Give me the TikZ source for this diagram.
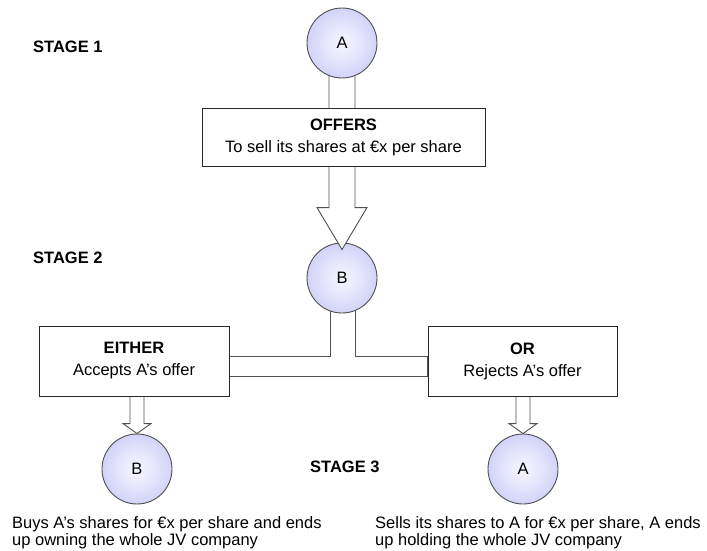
\documentclass[tikz,border=0pt]{standalone}
\usepackage{fontspec}
\setmainfont{Liberation Sans}
\usetikzlibrary{calc}
\definecolor{ballin}{RGB}{246,246,255}
\definecolor{ballout}{RGB}{184,184,244}
\definecolor{lnc}{RGB}{80,80,80}
\definecolor{boxc}{RGB}{40,40,40}
\pgfdeclareradialshading{ballshade}{\pgfpoint{0bp}{0bp}}{color(0bp)=(ballin); color(12bp)=(ballin!75!ballout); color(42bp)=(ballout); color(60bp)=(ballout)}
\pgfdeclarelayer{back}
\pgfdeclarelayer{mid}
\pgfdeclarelayer{arrows}
\pgfsetlayers{back,mid,arrows,main}
\newcommand\dfont{\fontsize{16.5pt}{22pt}\selectfont}
\newcommand\nfont{\fontsize{16.5pt}{17pt}\selectfont}
\begin{document}
\begin{tikzpicture}[x=1pt,y=-1pt,
  ball/.style={circle, draw=lnc, line width=0.9pt, shading=ballshade, minimum size=70pt, inner sep=0pt, font=\dfont},
  box/.style={draw=boxc, fill=white, line width=0.9pt, align=center, inner sep=0pt, font=\dfont},
  hollow/.style={draw=lnc, fill=white, line width=0.9pt, line join=miter},
  stage/.style={anchor=west, inner sep=0pt, font=\dfont\bfseries},
  note/.style={anchor=north west, align=left, inner sep=0pt, font=\nfont}]
\useasboundingbox (0,0) rectangle (707,551);

% circles below the arrows
\begin{pgfonlayer}{mid}
\node[ball] (cB) at (342,278) {B};
\node[ball] (cB2) at (137,469) {B};
\node[ball] (cA2) at (523,469) {A};
\end{pgfonlayer}

% main layer
\node[ball] (cA) at (342,43) {A};
\node[box, minimum width=283pt, minimum height=58pt] (offers) at (343.5,137)
  {\textbf{OFFERS}\\To sell its shares at €x per share};
\node[box, minimum width=190pt, minimum height=70pt] (either) at (134,361)
  {\textbf{EITHER}\\Accepts A’s offer};
\node[box, minimum width=189pt, minimum height=70pt] (or) at (522.5,361)
  {\textbf{OR}\\Rejects A’s offer};

\node[stage] (s1) at (33,47) {STAGE 1};
\node[stage] (s2) at (33,258) {STAGE 2};
\node[stage] (s3) at (310,467) {STAGE 3};

\node[note] (n1) at (12,516) {Buys A’s shares for €x per share and ends\\up owning the whole JV company};
\node[note] (n2) at (375,516) {Sells its shares to A for €x per share, A ends\\up holding the whole JV company};

% T connector behind
\begin{pgfonlayer}{back}
\coordinate (bartop) at ($(cB.center)+(0,78)$);
\coordinate (barbot) at ($(cB.center)+(0,98)$);
\draw[hollow] ($(cB.center)+(-12,0)$) -- ($(bartop)+(-12,0)$) -- (either.east |- bartop)
  -- (either.east |- barbot) -- (or.west |- barbot) -- (or.west |- bartop)
  -- ($(bartop)+(13,0)$) -- ($(cB.center)+(13,0)$);
\end{pgfonlayer}

% block arrows
\begin{pgfonlayer}{arrows}
\draw[hollow] ($(cA.center)+(-13,0)$) -- ($(cB.north)+(-13,-35)$) -- ($(cB.north)+(-25,-35)$)
  -- ($(cB.north)+(0,7)$) -- ($(cB.north)+(25,-35)$) -- ($(cB.north)+(13,-35)$) -- ($(cA.center)+(13,0)$);
\draw[hollow] ($(cB2.north)+(-7,-40)$) -- ($(cB2.north)+(-7,-10)$) -- ($(cB2.north)+(-14,-10)$)
  -- (cB2.north) -- ($(cB2.north)+(14,-10)$) -- ($(cB2.north)+(7,-10)$) -- ($(cB2.north)+(7,-40)$);
\draw[hollow] ($(cA2.north)+(-7,-40)$) -- ($(cA2.north)+(-7,-10)$) -- ($(cA2.north)+(-14,-10)$)
  -- (cA2.north) -- ($(cA2.north)+(14,-10)$) -- ($(cA2.north)+(7,-10)$) -- ($(cA2.north)+(7,-40)$);
\end{pgfonlayer}
\end{tikzpicture}
\end{document}
